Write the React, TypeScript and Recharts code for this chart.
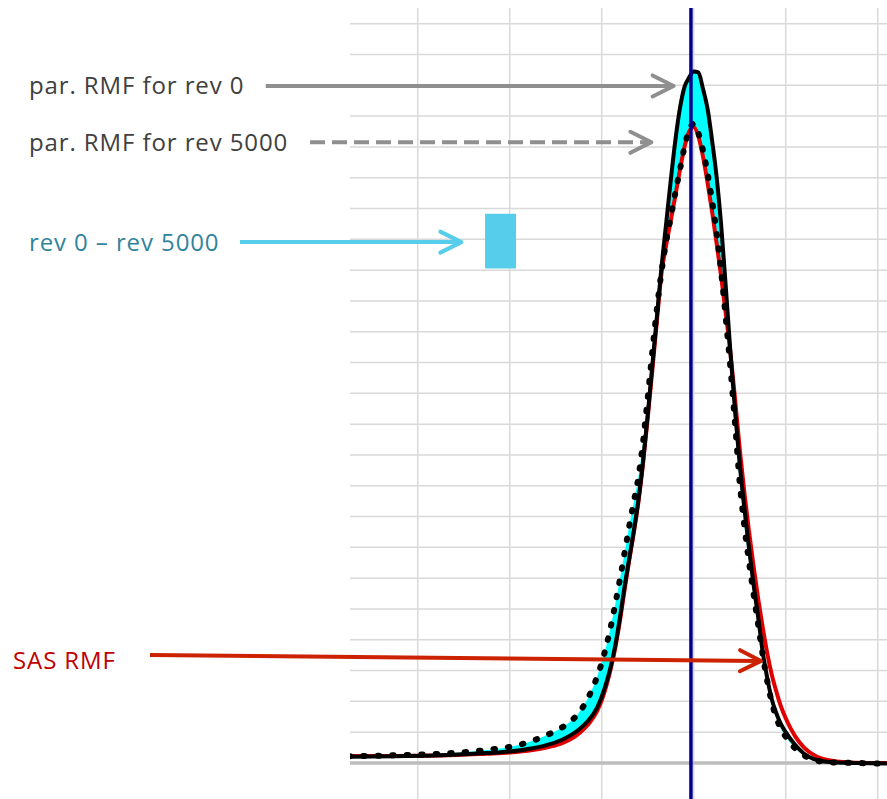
import React from 'react';
import {
  ComposedChart,
  Line,
  Area,
  XAxis,
  YAxis,
  CartesianGrid,
  ReferenceLine,
  ReferenceArea,
  ReferenceDot,
} from 'recharts';

// energy channel (x)
const energy = [
  85, 95, 105, 115, 120, 125, 128, 131, 133, 135, 137, 139, 140, 141, 142, 143, 144, 145, 146, 147,
  148, 149, 150, 151, 152, 153, 154, 155, 156, 157, 158, 159, 160, 161, 162, 163, 164, 165, 166, 167,
  168, 169, 170, 171, 172, 173, 174, 175, 176, 177, 178, 179, 180, 182, 184, 186, 190, 195, 202,
];

// par. RMF for rev 0 (black solid)
const rmfRev0 = [
  0.2, 0.22, 0.25, 0.32, 0.37, 0.48, 0.58, 0.73, 0.88, 1.08, 1.36, 1.8, 2.15, 2.6, 3.15, 3.85, 4.75, 5.75, 6.65, 7.55,
  8.55, 9.8, 11.3, 12.9, 14.5, 16.1, 17.5, 18.9, 20.2, 21.25, 21.95, 22.25, 22.45, 22.42, 21.9, 21.25, 20.2, 19.0, 17.4, 15.4,
  13.3, 11.4, 9.7, 8.3, 7.0, 5.8, 4.75, 3.6, 2.75, 2.05, 1.6, 1.25, 1.0, 0.6, 0.3, 0.13, 0.02, 0.0, -0.02,
];

// par. RMF for rev 5000 (black dotted)
const rmfRev5000 = [
  0.22, 0.25, 0.3, 0.42, 0.52, 0.72, 0.9, 1.12, 1.32, 1.62, 2.1, 2.8, 3.25, 3.8, 4.45, 5.2, 6.0, 6.85, 7.7, 8.5,
  9.3, 10.45, 11.85, 13.35, 14.75, 15.95, 16.9, 17.7, 18.5, 19.25, 20.0, 20.55, 20.75, 20.45, 19.9, 19.15, 18.25, 17.2, 15.9, 14.4,
  12.8, 11.0, 9.1, 7.7, 6.55, 5.5, 4.5, 3.5, 2.65, 1.95, 1.45, 1.1, 0.85, 0.48, 0.25, 0.1, 0.02, 0.0, -0.02,
];

// SAS RMF (red)
const sasRmf = [
  0.23, 0.23, 0.24, 0.3, 0.34, 0.42, 0.5, 0.62, 0.75, 0.95, 1.24, 1.68, 2.03, 2.5, 3.08, 3.78, 4.65, 5.65, 6.6, 7.5,
  8.5, 9.75, 11.2, 12.75, 14.35, 15.9, 16.8, 17.6, 18.4, 19.25, 20.0, 20.5, 20.65, 20.35, 19.7, 18.85, 17.9, 16.85, 15.75, 14.55,
  13.3, 11.8, 10.2, 8.8, 7.55, 6.4, 5.35, 4.4, 3.55, 2.85, 2.3, 1.82, 1.45, 0.88, 0.5, 0.27, 0.07, 0.01, 0.0,
];

const xTicks = [100, 120, 140, 160, 180, 200];
const yTicks = [-1, 0, 1, 2, 3, 4, 5, 6, 7, 8, 9, 10, 11, 12, 13, 14, 15, 16, 17, 18, 19, 20, 21, 22, 23, 24];
const xDomain = [85.28, 202.02];
const yDomain = [-1.17, 24.51];
const lineEnergy = 159.4;

// annotation labels (data coordinates)
const annotations = [
  { label: 'par. RMF for rev 0', textColor: '#404040', color: '#8f8f8f', textX: 15.5, textY: 21.98, fromX: 66.96, fromY: 21.98, toX: 155.63, toY: 21.98, dash: undefined as string | undefined },
  { label: 'par. RMF for rev 5000', textColor: '#404040', color: '#8f8f8f', textX: 15.5, textY: 20.15, fromX: 76.59, fromY: 20.15, toX: 150.8, toY: 20.15, dash: '15 7' },
  { label: 'rev 0 – rev 5000', textColor: '#31849B', color: '#56CDEA', textX: 15.5, textY: 16.91, fromX: 61.37, fromY: 16.91, toX: 109.48, toY: 16.91, dash: undefined },
  { label: 'SAS RMF', textColor: '#C00000', color: '#CC2200', textX: 12.02, textY: 3.32, fromX: 41.8, fromY: 3.508, toX: 174.63, toY: 3.313, dash: undefined },
];
const diffBox = { x1: 114.64, x2: 121.37, y1: 16.05, y2: 17.83 };

const data = energy.map((e, i) => ({
  e,
  rev0: rmfRev0[i],
  rev5000: rmfRev5000[i],
  sas: sasRmf[i],
  diff: [Math.min(rmfRev0[i], rmfRev5000[i]), Math.max(rmfRev0[i], rmfRev5000[i])],
}));

const makeArrow = (color: string, dash?: string) => (p: any) => {
  const { x1, y1, x2, y2 } = p;
  const ang = Math.atan2(y2 - y1, x2 - x1);
  const L = 21;
  const W = 10.5;
  const c = Math.cos(ang);
  const s = Math.sin(ang);
  const bx = x2 - L * c;
  const by = y2 - L * s;
  const nx = -s * W;
  const ny = c * W;
  return (
    <g>
      <line x1={x1} y1={y1} x2={x2 - 2 * c} y2={y2 - 2 * s} stroke={color} strokeWidth={4} strokeDasharray={dash} />
      <polyline
        points={`${bx + nx},${by + ny} ${x2},${y2} ${bx - nx},${by - ny}`}
        fill="none"
        stroke={color}
        strokeWidth={4}
        strokeLinecap="round"
        strokeLinejoin="round"
      />
    </g>
  );
};

const makeText = (label: string, color: string) => (p: any) => (
  <text
    x={p.cx}
    y={p.cy + 8.5}
    fill={color}
    fontSize={24}
    letterSpacing={0.9}
    fontFamily="'Open Sans', sans-serif"
  >
    {label}
  </text>
);

export default function App() {
  return (
    <div style={{ position: 'absolute', left: 0, top: 0, width: 887, height: 799, background: '#fff' }}>
      <ComposedChart
        width={887}
        height={799}
        data={data}
        margin={{ top: 8, right: 0, bottom: 0, left: 350 }}
      >
        <CartesianGrid
          stroke="#d9d9d9"
          strokeWidth={1.5}
          horizontalValues={yTicks}
          verticalValues={xTicks}
        />
        <XAxis dataKey="e" type="number" domain={xDomain} ticks={xTicks} hide allowDataOverflow />
        <YAxis type="number" domain={yDomain} ticks={yTicks} hide allowDataOverflow />
        <ReferenceLine y={0} stroke="#bdbdbd" strokeWidth={3.5} />
        <Area
          dataKey="diff"
          type="monotone"
          stroke="none"
          fill="#00FFFF"
          fillOpacity={1}
          isAnimationActive={false}
        />
        <Line dataKey="sas" type="monotone" stroke="#E00000" strokeWidth={4} dot={false} isAnimationActive={false} />
        <Line
          dataKey="rev5000"
          type="monotone"
          stroke="#000"
          strokeWidth={6}
          strokeDasharray="1.5 13"
          strokeLinecap="round"
          dot={false}
          isAnimationActive={false}
        />
        <Line dataKey="rev0" type="monotone" stroke="#000" strokeWidth={4} dot={false} isAnimationActive={false} />
        <ReferenceLine x={lineEnergy} stroke="#000090" strokeWidth={3.5} />
        <ReferenceArea
          x1={diffBox.x1}
          x2={diffBox.x2}
          y1={diffBox.y1}
          y2={diffBox.y2}
          fill="#56CDEA"
          fillOpacity={1}
          stroke="none"
          ifOverflow="visible"
        />
        {annotations.map((a) => (
          <ReferenceLine
            key={'l' + a.label}
            segment={[
              { x: a.fromX, y: a.fromY },
              { x: a.toX, y: a.toY },
            ]}
            ifOverflow="visible"
            shape={makeArrow(a.color, a.dash)}
          />
        ))}
        {annotations.map((a) => (
          <ReferenceDot
            key={'t' + a.label}
            x={a.textX}
            y={a.textY}
            r={1}
            ifOverflow="visible"
            shape={makeText(a.label, a.textColor)}
          />
        ))}
      </ComposedChart>
    </div>
  );
}
